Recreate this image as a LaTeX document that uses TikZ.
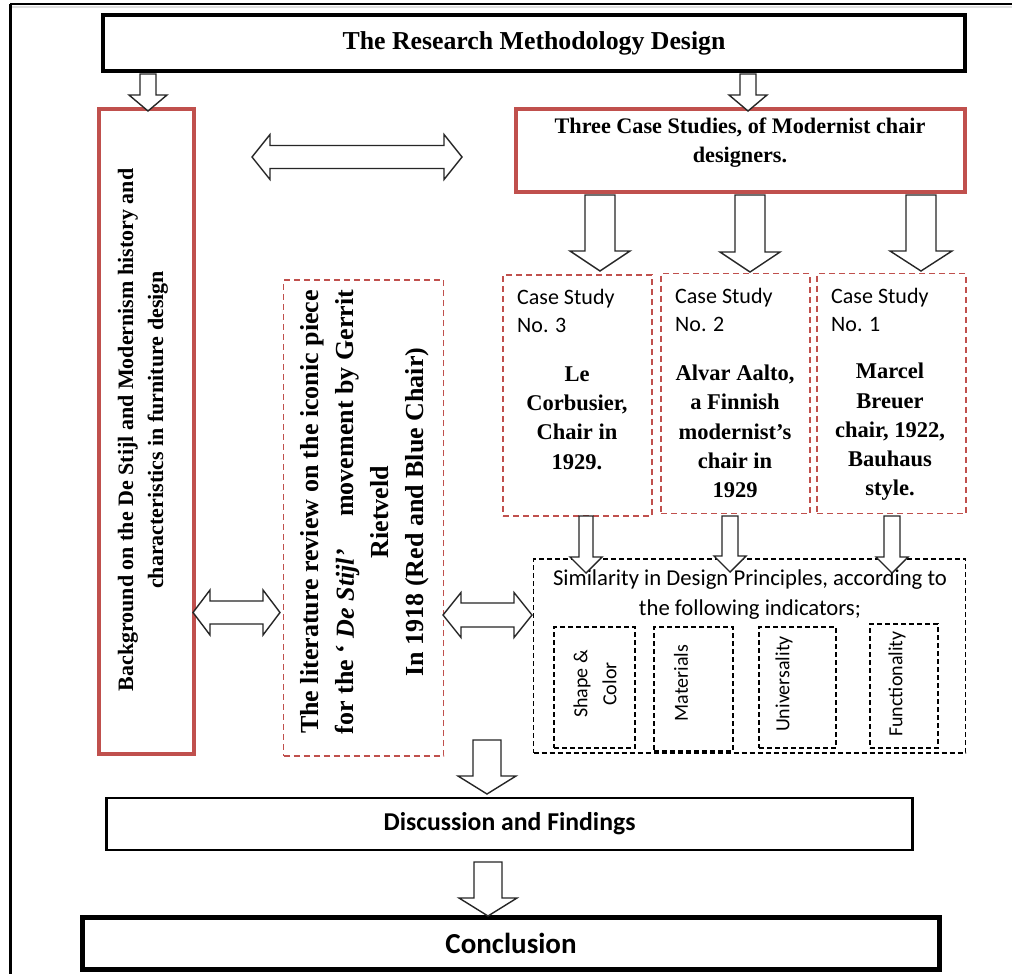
\documentclass[tikz,border=0pt]{standalone}
\usepackage{fontspec}
\setmainfont{Liberation Serif}
\setsansfont{Carlito}
\usetikzlibrary{calc}
\definecolor{redb}{HTML}{C0504D}
\newcommand{\fatdown}[6]{% x, top, tip, shaft half, head half, head length
  \draw[fat] (#1-#4,#2) -- (#1+#4,#2) -- (#1+#4,#3-#6) -- (#1+#5,#3-#6) -- (#1,#3)
    -- (#1-#5,#3-#6) -- (#1-#4,#3-#6) -- cycle;}
\newcommand{\fatboth}[6]{% x left tip, x right tip, y centre, shaft half, head half, head length
  \draw[fat] (#1,#3) -- (#1+#6,#3-#5) -- (#1+#6,#3-#4) -- (#2-#6,#3-#4) -- (#2-#6,#3-#5)
    -- (#2,#3) -- (#2-#6,#3+#5) -- (#2-#6,#3+#4) -- (#1+#6,#3+#4) -- (#1+#6,#3+#5) -- cycle;}
\tikzset{
  solidbox/.style={draw=black, line width=4pt, fill=white, inner sep=0pt},
  redbox/.style={draw=redb, line width=4pt, fill=white, inner sep=0pt},
  reddash/.style={draw=redb, line width=1.3pt, dash pattern=on 6pt off 4pt, inner sep=0pt},
  blkdash/.style={draw=black, line width=1.5pt, dash pattern=on 5pt off 3pt, inner sep=0pt},
  fat/.style={draw=black!85, line width=1.4pt, fill=white, line join=miter},
  serifb/.style 2 args={font=\bfseries\fontsize{#1}{#2}\selectfont, align=center, inner sep=0pt},
}
\begin{document}
\begin{tikzpicture}[x=1pt,y=-1pt]
\useasboundingbox[fill=white] (0,0) rectangle (1012,974);
% outer frame
\draw[line width=2pt, gray!25] (12,7.5) -- (1012,7.5);
\draw[line width=1.3pt] (10,4) -- (1012,4);
\draw[line width=3pt] (10,4) -- (10,974);

% title
\node[solidbox, minimum width=862pt, minimum height=56pt, font=\bfseries\fontsize{25.8}{28}\selectfont] (title) at (534,43) {The Research Methodology Design};

% left background box
\node[redbox, minimum width=95pt, minimum height=645pt] (bg) at (146.5,431) {};
\node[rotate=90, align=center, inner sep=0pt, font=\bfseries\fontsize{22}{30}\selectfont] (bgtext) at (143,430)
  {Background on the De Stijl and Modernism history and\\characteristics in furniture design};

% three case studies
\node[redbox, minimum width=449pt, minimum height=83pt] (three) at (740.5,150.5) {};
\node[serifb={22.2}{29}] (threetext) at (740,143) {Three Case Studies, of Modernist chair\\designers.};

% literature review box
\node[reddash, minimum width=160pt, minimum height=476pt] (lit) at (363.5,518) {};
\node[rotate=90, align=center, inner sep=0pt, font=\bfseries\fontsize{26}{35}\selectfont] (littext) at (365,512)
  {The literature review on the iconic piece\\for the ‘ \textit{De Stijl’}\quad\ movement by Gerrit\\Rietveld\\In 1918 (Red and Blue Chair)};

% case study boxes
\node[reddash, minimum width=149pt, minimum height=241pt] (cs3) at (577.5,395.5) {};
\node[reddash, minimum width=149pt, minimum height=240pt] (cs2) at (735.5,393.5) {};
\node[reddash, minimum width=149pt, minimum height=240pt] (cs1) at (891.5,393.5) {};
\node[anchor=west, align=left, inner sep=0pt, font=\sffamily\fontsize{22}{28.5}\selectfont] (cs3a) at (517,311) {Case Study\\No. 3};
\node[anchor=west, align=left, inner sep=0pt, font=\sffamily\fontsize{22}{28.5}\selectfont] (cs2a) at (675,310) {Case Study\\No. 2};
\node[anchor=west, align=left, inner sep=0pt, font=\sffamily\fontsize{22}{28.5}\selectfont] (cs1a) at (831,310) {Case Study\\No. 1};
\node[serifb={22.5}{29.3}] (cs3b) at (577,418) {Le\\Corbusier,\\Chair in\\1929.};
\node[serifb={22.5}{29.3}] (cs2b) at (735,431.5) {Alvar Aalto,\\a Finnish\\modernist’s\\chair in\\1929};
\node[serifb={22.5}{29.3}] (cs1b) at (890,432) {Marcel\\Breuer\\chair, 1922,\\Bauhaus\\style.};

% similarity box
\node[blkdash, minimum width=432pt, minimum height=194pt] (sim) at (749.5,656) {};
\node[align=center, inner sep=0pt, font=\sffamily\fontsize{22.7}{30}\selectfont] (simtext) at (750,595)
  {Similarity in Design Principles, according to\\the following indicators;};
\node[blkdash, minimum width=81pt, minimum height=121pt] (ind1) at (594.5,687.5) {};
\node[blkdash, minimum width=79pt, minimum height=124pt] (ind2) at (693.5,689) {};
\node[blkdash, minimum width=77pt, minimum height=121pt] (ind3) at (797.5,687.5) {};
\node[blkdash, minimum width=68pt, minimum height=124pt] (ind4) at (904,686) {};
\node[rotate=90, align=center, inner sep=0pt, font=\sffamily\fontsize{20}{29}\selectfont] at (595,684) {Shape \&\\Color};
\node[rotate=90, inner sep=0pt, font=\sffamily\fontsize{20}{24}\selectfont] at (681,683) {Materials};
\node[rotate=90, inner sep=0pt, font=\sffamily\fontsize{20}{24}\selectfont] at (784,684) {Universality};
\node[rotate=90, inner sep=0pt, font=\sffamily\fontsize{20}{24}\selectfont] at (897,684) {Functionality};

% discussion and conclusion
\node[solidbox, line width=2.8pt, minimum width=806pt, minimum height=52pt, font=\sffamily\bfseries\fontsize{25.7}{28}\selectfont] (disc) at (509.5,824) {Discussion and Findings};
\node[solidbox, line width=4.5pt, minimum width=857pt, minimum height=52pt, font=\sffamily\bfseries\fontsize{29}{32}\selectfont] (concl) at (511,943.5) {Conclusion};

% fat arrows
\fatdown{148}{74}{111}{8}{19}{16}
\fatdown{748}{74}{111}{8}{19}{16}
\fatdown{600}{195}{271}{15}{30}{20}
\fatdown{750}{195}{272}{15}{30}{20}
\fatdown{921}{195}{271}{15}{31}{20}
\fatdown{586}{516}{573}{7}{16}{16}
\fatdown{730}{516}{572}{8}{16}{16}
\fatdown{892}{516}{573}{8}{16}{16}
\fatdown{487}{740}{794}{14}{29}{18}
\fatdown{488}{862}{916}{14}{29}{18}
\fatboth{252}{462}{157}{11.5}{22.5}{18}
\fatboth{193}{280}{612.5}{11.5}{22.5}{17}
\fatboth{443}{532}{615}{12}{22.5}{18}
\end{tikzpicture}
\end{document}
